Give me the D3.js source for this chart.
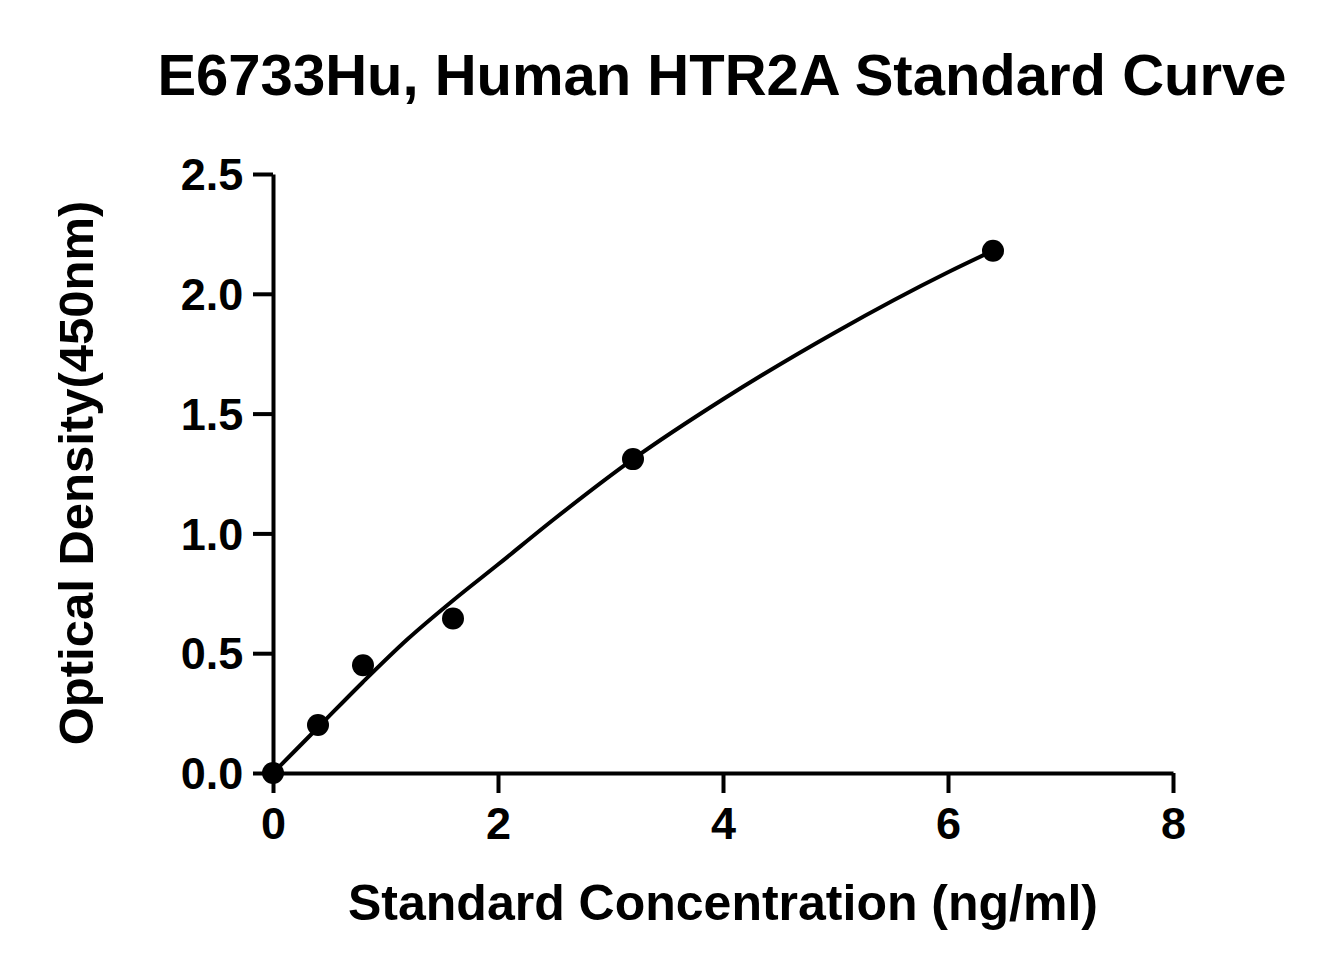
<!DOCTYPE html>
<html><head><meta charset="utf-8">
<script src="https://cdn.jsdelivr.net/npm/d3@7"></script>
<style>body{margin:0;background:#fff}text{font-family:"Liberation Sans",Arial,sans-serif;font-weight:bold}</style>
</head><body><svg id="c" width="1329" height="975"></svg>
<script>
const concX = [0, 0.4, 0.8, 1.6, 3.2, 6.4];
const odY = [0.0, 0.20, 0.45, 0.645, 1.31, 2.18];
const curveX = [0, 0.4, 0.8, 1.2, 1.6, 2, 2.5, 3.2, 4, 5, 6, 6.4];
const curveY = [0, 0.19, 0.38, 0.56, 0.72, 0.87, 1.06, 1.31, 1.56, 1.84, 2.09, 2.18];
const xTicks = [0, 2, 4, 6, 8];
const yTicks = [0, 0.5, 1.0, 1.5, 2.0, 2.5];

const svg = d3.select("#c");
const x = d3.scaleLinear().domain([0, 8]).range([273, 1173]);
const y = d3.scaleLinear().domain([0, 2.5]).range([773, 174]);

const xa = svg.append("g").attr("transform", "translate(0,773)")
  .call(d3.axisBottom(x).tickValues(xTicks).tickFormat(d3.format("d")).tickSize(20).tickSizeOuter(0));
const ya = svg.append("g").attr("transform", "translate(273,0)")
  .call(d3.axisLeft(y).tickValues(yTicks).tickFormat(d3.format(".1f")).tickSize(20).tickSizeOuter(0));
[xa, ya].forEach(a => {
  a.selectAll("path,line").attr("stroke", "#000").attr("stroke-width", 4);
  a.selectAll("text").attr("font-size", 45).attr("fill", "#000");
});
xa.selectAll("text").attr("dy", "0.95em");
ya.selectAll("text").attr("dx", "-0.15em").attr("dy", "0.35em");

svg.append("path")
  .attr("d", d3.line().x(d => x(d[0])).y(d => y(d[1])).curve(d3.curveMonotoneX)(curveX.map((v, i) => [v, curveY[i]])))
  .attr("fill", "none").attr("stroke", "#000").attr("stroke-width", 4);

svg.selectAll("circle.p").data(concX).enter().append("circle")
  .attr("cx", d => x(d)).attr("cy", (d, i) => y(odY[i])).attr("r", 11).attr("fill", "#000");

svg.append("text").attr("x", 722).attr("y", 95).attr("text-anchor", "middle")
  .attr("font-size", 58).text("E6733Hu, Human HTR2A Standard Curve");
svg.append("text").attr("x", 723).attr("y", 920).attr("text-anchor", "middle")
  .attr("font-size", 50).text("Standard Concentration (ng/ml)");
svg.append("text").attr("transform", "translate(93,473) rotate(-90)").attr("text-anchor", "middle")
  .attr("font-size", 49).text("Optical Density(450nm)");
</script></body></html>
